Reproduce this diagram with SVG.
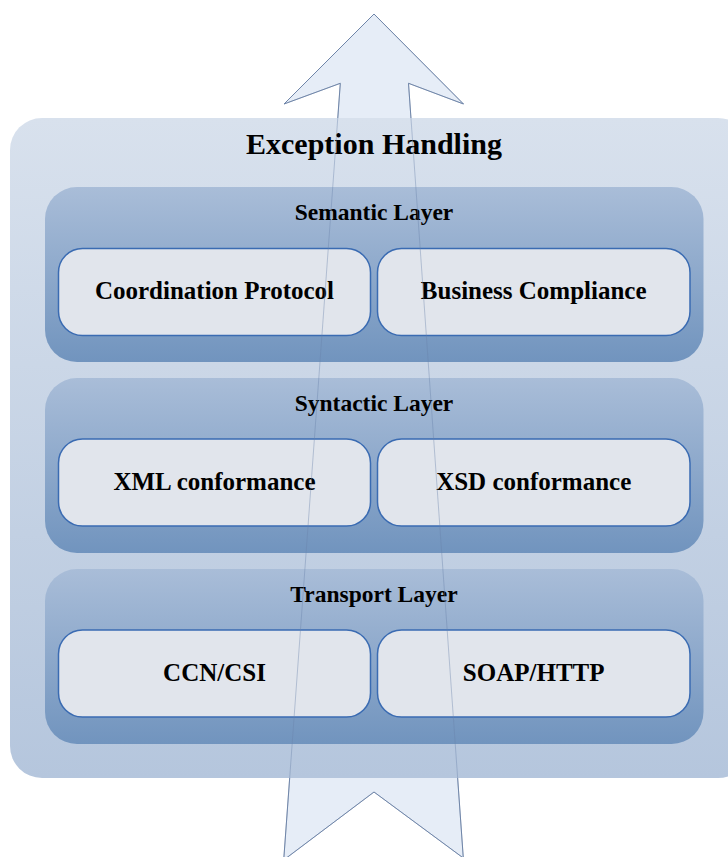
<svg xmlns="http://www.w3.org/2000/svg" width="728" height="857" viewBox="0 0 728 857">
<defs>
<linearGradient id="gOuter" x1="0" y1="0" x2="0" y2="1">
<stop offset="0" stop-color="#d8e1ed"/>
<stop offset="1" stop-color="#b5c6dd"/>
</linearGradient>
<linearGradient id="gLayer" x1="0" y1="0" x2="0" y2="1">
<stop offset="0" stop-color="#a9bdd8"/>
<stop offset="1" stop-color="#7194be"/>
</linearGradient>
<style>
.t{font-family:"Liberation Serif","Times New Roman",serif;font-weight:bold;fill:#000;text-anchor:middle}
.title{font-size:30px}
.lt{font-size:23.5px}
.bt{font-size:25px}
.layer{fill:url(#gLayer)}
.box{fill:#e1e5ec;stroke:#3a6bb2;stroke-width:1.5}
.arrow{fill:#e6edf7;stroke:#7488a8;stroke-width:1}
.arrowline{fill:none;stroke:#6a82aa;stroke-width:1;stroke-opacity:0.4}
</style>
</defs>
<rect width="728" height="857" fill="#ffffff"/>
<g id="connectors">
<polygon class="arrow" points="374,14 463.5,104 408.5,83.3 463.3,858 374,792 283.7,860 340.3,83.3 284,104"/>
</g>
<g id="exception-handling">
<rect x="10" y="118" width="740" height="660" rx="32" ry="32" fill="url(#gOuter)"/>
<text class="t title" x="374" y="154">Exception Handling</text>
</g>
<g id="semantic-layer">
<rect class="layer" x="45" y="187" width="658.5" height="175" rx="32" ry="32"/>
<text class="t lt" x="374" y="220">Semantic Layer</text>
</g>
<g id="coordination-protocol">
<rect class="box" x="58.5" y="248.5" width="312" height="87" rx="24" ry="24"/>
<text class="t bt" x="214.5" y="299">Coordination Protocol</text>
</g>
<g id="business-compliance">
<rect class="box" x="377.5" y="248.5" width="312.5" height="87" rx="24" ry="24"/>
<text class="t bt" x="533.7" y="299">Business Compliance</text>
</g>
<g id="syntactic-layer">
<rect class="layer" x="45" y="378" width="658.5" height="175" rx="32" ry="32"/>
<text class="t lt" x="374" y="411">Syntactic Layer</text>
</g>
<g id="xml-conformance">
<rect class="box" x="58.5" y="439" width="312" height="87" rx="24" ry="24"/>
<text class="t bt" x="214.5" y="490">XML conformance</text>
</g>
<g id="xsd-conformance">
<rect class="box" x="377.5" y="439" width="312.5" height="87" rx="24" ry="24"/>
<text class="t bt" x="533.7" y="490">XSD conformance</text>
</g>
<g id="transport-layer">
<rect class="layer" x="45" y="569" width="658.5" height="175" rx="32" ry="32"/>
<text class="t lt" x="374" y="602">Transport Layer</text>
</g>
<g id="ccn-csi">
<rect class="box" x="58.5" y="630" width="312" height="87" rx="24" ry="24"/>
<text class="t bt" x="214.5" y="681">CCN/CSI</text>
</g>
<g id="soap-http">
<rect class="box" x="377.5" y="630" width="312.5" height="87" rx="24" ry="24"/>
<text class="t bt" x="533.7" y="681">SOAP/HTTP</text>
</g>
<g id="arrow-overlay">
<polygon class="arrowline" points="374,14 463.5,104 408.5,83.3 463.3,858 374,792 283.7,860 340.3,83.3 284,104"/>
</g>
</svg>
